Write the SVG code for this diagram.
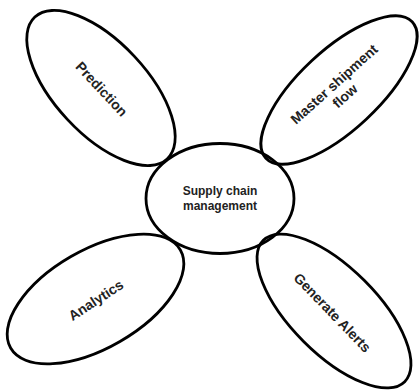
<svg xmlns="http://www.w3.org/2000/svg" width="419" height="390" viewBox="0 0 419 390">
<style>
.shape{fill:none;stroke:#000;stroke-width:2.8}
.lbl{font-family:"Liberation Sans",Arial,sans-serif;font-weight:bold;font-size:14px;fill:#222;text-anchor:middle}
.center{font-size:12px}
</style>
<rect width="419" height="390" fill="#fff"/>
<g id="connectors"></g>
<g id="prediction">
<ellipse class="shape" cx="0" cy="0" rx="97" ry="46" transform="translate(101,88) rotate(47)"/>
<text class="lbl" transform="translate(101.7,89) rotate(47)" y="5">Prediction</text>
</g>
<g id="master-shipment-flow">
<ellipse class="shape" cx="0" cy="0" rx="100" ry="40" transform="translate(339,90) rotate(-43)"/>
<text class="lbl" transform="translate(339.4,90) rotate(-42)"><tspan x="0" y="-3">Master shipment</tspan><tspan x="0" y="13">flow</tspan></text>
</g>
<g id="analytics">
<ellipse class="shape" cx="0" cy="0" rx="98" ry="49" transform="translate(95.5,299) rotate(-30)"/>
<text class="lbl" transform="translate(95.8,300) rotate(-33)" y="5">Analytics</text>
</g>
<g id="generate-alerts">
<ellipse class="shape" cx="0" cy="0" rx="100" ry="43" transform="translate(334,311) rotate(45)"/>
<text class="lbl" transform="translate(332.5,312.5) rotate(46)" y="5">Generate Alerts</text>
</g>
<g id="supply-chain-management">
<ellipse class="shape" cx="220" cy="198.5" rx="74" ry="55"/>
<text class="lbl center" x="220" y="195">Supply chain</text>
<text class="lbl center" x="220" y="210">management</text>
</g>
</svg>
